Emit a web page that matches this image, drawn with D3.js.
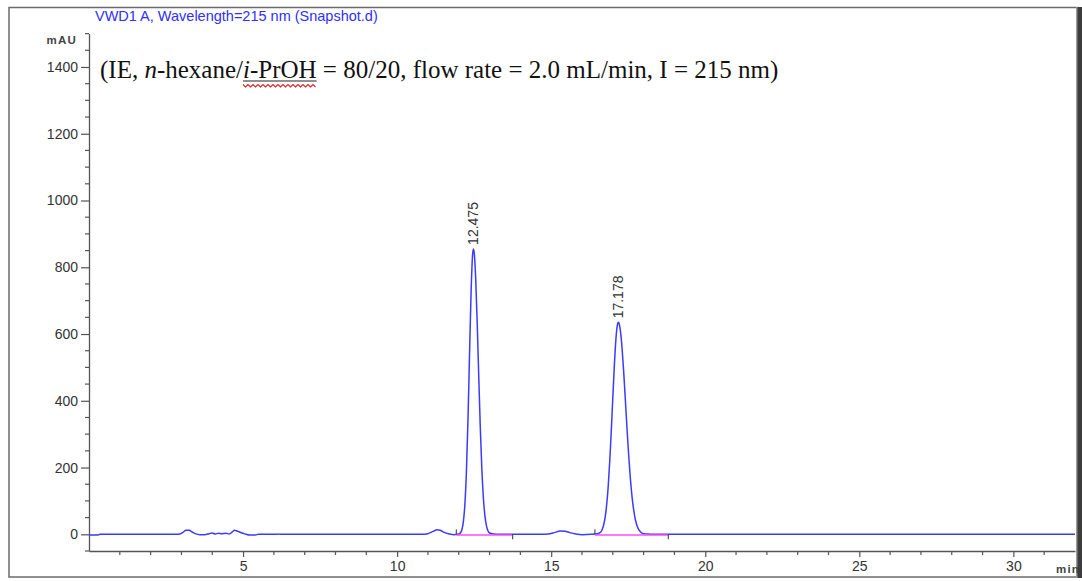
<!DOCTYPE html>
<html>
<head>
<meta charset="utf-8">
<script src="https://cdn.jsdelivr.net/npm/d3@7"></script>
<style>
  html, body { margin: 0; padding: 0; background: #fff; }
  svg { display: block; }
</style>
</head>
<body>
<svg id="chart" width="1082" height="581"></svg>
<script>
// Detector signal (mAU) against retention time (min)
const traceTime = [
  0, 0.3, 0.35, 2.8, 2.95, 3.05, 3.15, 3.25, 3.35, 3.45, 3.6, 3.75, 3.9, 4.0, 4.1, 4.2, 4.3, 4.45, 4.55,
  4.65, 4.72, 4.8, 4.9, 5.0, 5.1, 5.2, 5.4, 5.5, 6.1, 6.15, 6.2, 10.8, 11.0, 11.15, 11.3, 11.4, 11.55,
  11.7, 11.85, 11.95,
  12.0, 12.05, 12.1, 12.15, 12.2, 12.25, 12.3, 12.35, 12.4, 12.45, 12.475, 12.5, 12.55, 12.6, 12.65,
  12.7, 12.75, 12.8, 12.85, 12.9, 12.95, 13.0, 13.1, 13.2, 13.4,
  14.7, 14.9, 15.1, 15.3, 15.45, 15.6, 15.8, 16.0, 16.3, 16.5,
  16.6, 16.65, 16.7, 16.75, 16.8, 16.85, 16.9, 16.95, 17.0, 17.05, 17.1, 17.15, 17.178, 17.2, 17.25,
  17.3, 17.35, 17.4, 17.45, 17.5, 17.55, 17.6, 17.65, 17.7, 17.75, 17.8, 17.9, 18.0, 18.2, 18.4,
  32
];
const traceSignal = [
  -2, -2, 0, 0, 1, 6, 12, 12, 7, 2, -1, -1, 2, 4, 1, 3, 2, 3, 1,
  7, 12, 10, 6, 3, 0, -2, -2, 0, 0, 1, 0, 0, 2, 8, 14, 12, 5,
  1, -1, 0,
  1, 4, 13, 38, 91, 191, 345, 539, 724, 839, 855, 845, 766, 630, 470,
  318, 195, 109, 55, 25, 10, 4, 1.5, 0.5, 0,
  0, 1, 5, 10, 9, 5, 1, -1, 0, 2,
  6, 13, 27, 50, 88, 143, 218, 309, 409, 506, 584, 628, 635, 632, 607,
  558, 491, 414, 334, 258, 191, 135, 92, 60, 37, 22, 7, 2, 0.5, 0,
  0
];

// Integrated peaks
const peakTimes = [12.475, 17.178];
const peakHeights = [855, 635];
const peakLabels = ["12.475", "17.178"];
const baselineStart = [11.92, 16.42];
const baselineEnd = [13.75, 18.8];

// Axis ticks
const xMajorTicks = [5, 10, 15, 20, 25, 30];
const yMajorTicks = [0, 200, 400, 600, 800, 1000, 1200, 1400];

const titleText = "VWD1 A, Wavelength=215 nm (Snapshot.d)";

const svg = d3.select("#chart");

const x = d3.scaleLinear().domain([0, 32]).range([89, 1075]);
const y = d3.scaleLinear().domain([-50, 1500]).range([551, 33.6]);

// Frame
svg.append("rect").attr("x", 9).attr("y", 7.5).attr("width", 1068).attr("height", 569.5)
  .attr("fill", "none").attr("stroke", "#6b6b6b").attr("stroke-width", 1.5);
svg.append("rect").attr("x", 1076).attr("y", 7).attr("width", 1.5).attr("height", 571).attr("fill", "#999");
svg.append("rect").attr("x", 1077.5).attr("y", 7).attr("width", 4.5).attr("height", 571).attr("fill", "#3c3c3c");

// Title
svg.append("text").attr("x", 95).attr("y", 21)
  .attr("font-family", "Liberation Sans, Arial, sans-serif").attr("font-size", 14.5)
  .attr("fill", "#2f2fff").text(titleText);

const tickFont = "Liberation Sans, Arial, sans-serif";

// Y axis
const yAxis = d3.axisLeft(y).tickValues(yMajorTicks).tickFormat(d3.format("d"))
  .tickSize(8).tickSizeOuter(0).tickPadding(3);
const gy = svg.append("g").attr("transform", "translate(89,0)").call(yAxis);
gy.select(".domain").attr("stroke", "#555").attr("stroke-width", 1.3);
gy.selectAll(".tick line").attr("stroke", "#555").attr("stroke-width", 1.2);
gy.selectAll(".tick text").attr("font-family", tickFont).attr("font-size", 14).attr("fill", "#333");
const yMinor = d3.range(-50, 1501, 50).filter(v => v % 200 !== 0);
svg.append("g").selectAll("line").data(yMinor).join("line")
  .attr("x1", 85).attr("x2", 89).attr("y1", d => y(d)).attr("y2", d => y(d))
  .attr("stroke", "#555").attr("stroke-width", 1.2);
svg.append("text").attr("x", 77).attr("y", 44).attr("text-anchor", "end")
  .attr("font-family", tickFont).attr("font-size", 11.5).attr("font-weight", "bold").attr("letter-spacing", 1.2)
  .attr("fill", "#444").text("mAU");

// X axis
const xAxis = d3.axisBottom(x).tickValues(xMajorTicks).tickSize(6).tickSizeOuter(0).tickPadding(4);
const gx = svg.append("g").attr("transform", "translate(0,551)").call(xAxis);
gx.select(".domain").attr("stroke", "#555").attr("stroke-width", 1.3);
gx.selectAll(".tick line").attr("stroke", "#555").attr("stroke-width", 1.2);
gx.selectAll(".tick text").attr("font-family", tickFont).attr("font-size", 14).attr("fill", "#333");
const xMinor = d3.range(1, 32).filter(v => v % 5 !== 0);
svg.append("g").selectAll("line").data(xMinor).join("line")
  .attr("x1", d => x(d)).attr("x2", d => x(d)).attr("y1", 551).attr("y2", 555)
  .attr("stroke", "#555").attr("stroke-width", 1.2);
svg.append("text").attr("x", 1056).attr("y", 573)
  .attr("font-family", tickFont).attr("font-size", 11.5).attr("font-weight", "bold").attr("letter-spacing", 1.2)
  .attr("fill", "#444").text("min");

// Trace
const pts = traceTime.map((t, i) => [t, traceSignal[i]]);
const line = d3.line().x(d => x(d[0])).y(d => y(d[1])).curve(d3.curveMonotoneX);
svg.append("path").datum(pts).attr("d", line)
  .attr("fill", "none").attr("stroke", "#3b3bff").attr("stroke-width", 1.5)
  .attr("stroke-linejoin", "round");

// Integration baselines, drawn over the trace
const base = svg.append("g");
baselineStart.forEach((s, i) => {
  const e = baselineEnd[i];
  base.append("line").attr("x1", x(s)).attr("x2", x(e)).attr("y1", y(0) + 0.6).attr("y2", y(0) + 0.6)
    .attr("stroke", "#ff4dff").attr("stroke-width", 1.5);
  base.append("line").attr("x1", x(s)).attr("x2", x(s)).attr("y1", y(0) - 5).attr("y2", y(0))
    .attr("stroke", "#333").attr("stroke-width", 1);
  base.append("line").attr("x1", x(e)).attr("x2", x(e)).attr("y1", y(0)).attr("y2", y(0) + 5)
    .attr("stroke", "#333").attr("stroke-width", 1);
});

// Retention time labels
peakTimes.forEach((t, i) => {
  svg.append("text")
    .attr("transform", `translate(${x(t) + 5},${y(peakHeights[i]) - 4}) rotate(-90)`)
    .attr("font-family", tickFont).attr("font-size", 14).attr("fill", "#333")
    .text(peakLabels[i]);
});

// Method annotation
const note = svg.append("text").attr("x", 100).attr("y", 78)
  .attr("font-family", "Liberation Serif, Times New Roman, serif").attr("font-size", 25)
  .attr("fill", "#111");
const parts = [
  ["(IE, ", false], ["n", true], ["-hexane/", false], ["i", true],
  ["-PrOH", false], [" = 80/20, flow rate = 2.0 mL/min, I = 215 nm)", false]
];
parts.forEach(([s, it]) => {
  note.append("tspan").attr("font-style", it ? "italic" : "normal").text(s);
});
// underline and spell-check squiggle under "i-PrOH"
const full = parts.map(p => p[0]).join("");
const startIdx = full.indexOf("i-PrOH");
const node = note.node();
const ux0 = node.getStartPositionOfChar(startIdx).x;
const ux1 = node.getEndPositionOfChar(startIdx + 5).x;
svg.append("line").attr("x1", ux0).attr("x2", ux1).attr("y1", 81).attr("y2", 81)
  .attr("stroke", "#222").attr("stroke-width", 1.2);
const wave = [];
for (let px = ux0, k = 0; px <= ux1; px += 2.5, k++) wave.push([px, k % 2 === 0 ? 84.5 : 87]);
svg.append("path").attr("d", d3.line()(wave)).attr("fill", "none")
  .attr("stroke", "#e02020").attr("stroke-width", 1.1);
</script>
</body>
</html>
